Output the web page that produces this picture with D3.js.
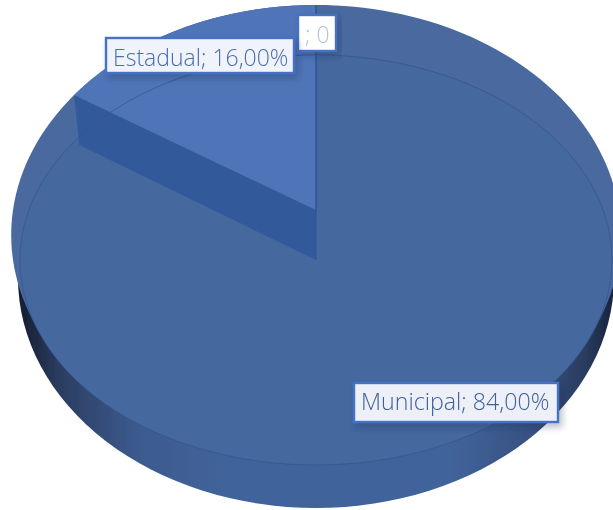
<!DOCTYPE html>
<html>
<head>
<meta charset="utf-8">
<style>html,body{margin:0;padding:0;background:#fff;overflow:hidden}svg{display:block}</style>
<script src="https://cdn.jsdelivr.net/npm/d3@7"></script>
</head>
<body>
<svg id="chart" width="613" height="510"></svg>
<script>
const categories = ["Municipal", "Estadual", ""];
const values = [84, 16, 0];
const labelTexts = ["Municipal; 84,00%", "Estadual; 16,00%", "; 0"];

const root = d3.select("#chart");
const defs = root.append("defs");
defs.append("filter").attr("id", "soft").attr("x", 0).attr("y", 0).attr("width", "100%").attr("height", "100%")
  .append("feGaussianBlur").attr("stdDeviation", 0.45);
const svg = root.append("g").attr("filter", "url(#soft)");

// perspective projection of the pie's unit circle onto the page
const P = {cx: 316, k: 303, a: -204.5, b: 210, c: 0.1087};
const project = (angle, r = 1) => {
  const u = r * Math.sin(angle), v = r * Math.cos(angle), d = P.c * v + 1;
  return [P.cx + P.k * u / d, (P.a * v + P.b) / d];
};
const pie = d3.pie().sort(null).value(d => d)(values);
const TAU = Math.PI * 2;
const angles = (a0, a1) => d3.range(0, 181).map(i => a0 + (a1 - a0) * i / 180);
const line = d3.line();

const wallH = 50, wallDx = 5;

// extruded side
const side = defs.append("linearGradient").attr("id", "side").attr("x1", 0).attr("x2", 1).attr("y1", 0).attr("y2", 0);
[[0, "#141d30"], [0.07, "#2b3d60"], [0.2, "#3c5a8e"], [0.36, "#41649c"], [0.72, "#41649c"], [0.87, "#36507f"], [0.95, "#2a3d60"], [1, "#18233a"]]
  .forEach(s => side.append("stop").attr("offset", s[0]).attr("stop-color", s[1]));
svg.append("ellipse").attr("cx", 316).attr("cy", 278).attr("rx", 298).attr("ry", 230).attr("fill", "url(#side)");

// full top face (whole disc outline)
const rim = angles(0, TAU).map(a => project(a));
svg.append("path").attr("d", line(rim) + "Z").attr("fill", "#48699f");

// inner bevel edge
const inner = d3.range(0, 361).map(i => {
  const t = i * Math.PI / 180;
  return [316 + 296 * Math.sin(t), 260 - 205 * Math.cos(t)];
});
svg.append("path").attr("d", line(inner) + "Z").attr("fill", "#45679f");

// Estadual wedge
const est = pie[1];
const apex = project(0, 0);
const edge = project(est.startAngle);
const wall = [apex, edge, [edge[0] + wallDx, edge[1] + wallH], [apex[0], apex[1] + wallH]];
svg.append("path").attr("d", line(wall) + "Z").attr("fill", "#335a9a");
const wedgePts = [apex].concat(angles(est.startAngle, est.endAngle).map(a => project(a)));
svg.append("path").attr("d", line(wedgePts) + "Z").attr("fill", "#4f75b8");

// bevel line on top of everything but the wedge border
svg.append("path").attr("d", line(inner) + "Z").attr("fill", "none").attr("stroke", "#34558f").attr("stroke-width", 1).attr("stroke-opacity", 0.75);
svg.append("path").attr("d", line([apex, project(TAU)])).attr("stroke", "#2f5597").attr("stroke-width", 1.6).attr("fill", "none");
svg.append("path").attr("d", line([apex, [apex[0], apex[1] + wallH]])).attr("stroke", "#2f5597").attr("stroke-width", 1).attr("fill", "none");

// labels
const shadow = defs.append("filter").attr("id", "sh").attr("x", "-10%").attr("y", "-30%").attr("width", "125%").attr("height", "170%");
shadow.append("feDropShadow").attr("dx", 3).attr("dy", 4).attr("stdDeviation", 3).attr("flood-color", "#1f2d50").attr("flood-opacity", 0.3);

const boxes = [
  {x: 354, y: 383, w: 204, h: 39, tx: 361, ty: 410, fs: 23.2, col: "#3f5f9c", fill: "#edf0f7"},
  {x: 106, y: 38, w: 188, h: 35, tx: 113, ty: 66, fs: 23, col: "#4a6db3", fill: "#f0f3f9"},
  {x: 298, y: 15, w: 38, h: 36, tx: 305, ty: 43, fs: 23, col: "#b4c1dc", fill: "#ffffff"}
];
const order = [2, 1, 0];
order.forEach(i => {
  const b = boxes[i];
  svg.append("rect").attr("x", b.x).attr("y", b.y).attr("width", b.w).attr("height", b.h)
    .attr("fill", b.fill).attr("stroke", "#4472c4").attr("stroke-width", 2.4).attr("filter", "url(#sh)");
  svg.append("text").attr("x", b.tx).attr("y", b.ty).attr("font-family", "'Open Sans', 'Noto Sans', sans-serif")
    .attr("font-weight", 300).attr("font-size", b.fs).attr("fill", b.col).text(labelTexts[i]);
});
</script>
</body>
</html>
